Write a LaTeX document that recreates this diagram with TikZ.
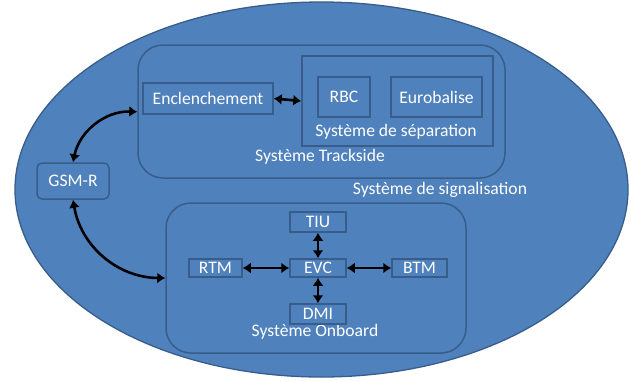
\documentclass[tikz,border=0pt]{standalone}
\usepackage{fontspec}
\setmainfont{Carlito}
\usetikzlibrary{shapes.geometric,arrows.meta}

\definecolor{officeblue}{HTML}{4F81BD}
\definecolor{officeedge}{HTML}{385D8A}

\begin{document}
\begin{tikzpicture} [
            x=1pt, y=-1pt,
            every node/.style={text=white,font=\fontsize{17.6}{19}\selectfont},
            zone/.style={ellipse,draw=officeedge,fill=officeblue,line width=1.3pt,inner sep=0pt},
            system/.style={draw=officeedge,fill=officeblue,line width=1.5pt,rounded corners=25pt,inner sep=0pt},
            subsystem/.style={draw=officeedge,fill=officeblue,line width=1.5pt,inner sep=0pt},
            unit/.style={draw=officeedge,fill=officeblue,line width=1.5pt,inner sep=0pt},
            link/.style = {draw,black,line width=2.6pt,{Latex[length=8pt,width=11pt]}-{Latex[length=8pt,width=11pt]}},
        ]
        \useasboundingbox (0,0) rectangle (631,381);
        % First we draw the big zones
        \node[zone,minimum width=613pt,minimum height=375pt] (signal) at (321.5,189.5) {};
        \node (signaltext) at (440,190) {Système de signalisation};
        \node[system,minimum width=367pt,minimum height=133pt] (trackside) at (321.5,111.5) {};
        \node[system,minimum width=300pt,minimum height=150pt] (onboard) at (316,278) {};
        \node[subsystem,minimum width=191pt,minimum height=90pt] (separation) at (397.5,101) {};
        \node (separationtext) at (396,132) {Système de séparation};
        \node (tracksidetext) at (320,157) {Système Trackside};
        \node (onboardtext) at (315,332) {Système Onboard};
        \node[unit,rounded corners=5pt,minimum width=72pt,minimum height=36pt] (gsmr) at (73,181) {GSM-R};
        % then the units
        \foreach \pos/\name/\boxw/\boxh/\label in {
                % trackside
                {(208,98.5)/encl/130/31/Enclenchement},
                {(344,97)/rbc/52/40/RBC},
                {(436.5,97)/euro/91/40/Eurobalise},
                % onboard
                {(318,222)/tiu/56/20/TIU},
                {(318,268)/evc/56/18/EVC},
                {(215.5,268)/rtm/53/18/RTM},
                {(419.5,268)/btm/55/18/BTM},
                {(318,314)/dmi/56/20/DMI}}
            \node[unit,minimum width=\boxw pt,minimum height=\boxh pt] (\name) at \pos {\label};
        % Connect units with links
        \path[link] (encl.east) -- (separation.west);
        \foreach \source/ \dest in {
                evc.west/rtm.east,evc.east/btm.west,
                evc.north/tiu.south,evc.south/dmi.north}
            \path[link] (\source) -- (\dest);
        \path[link] (gsmr.north) to[bend left=40] ([shift={(-5pt,3pt)}]encl.south west);
        \path[link] (gsmr.south) to[bend right=40] (onboard.west);
    \end{tikzpicture}
\end{document}
